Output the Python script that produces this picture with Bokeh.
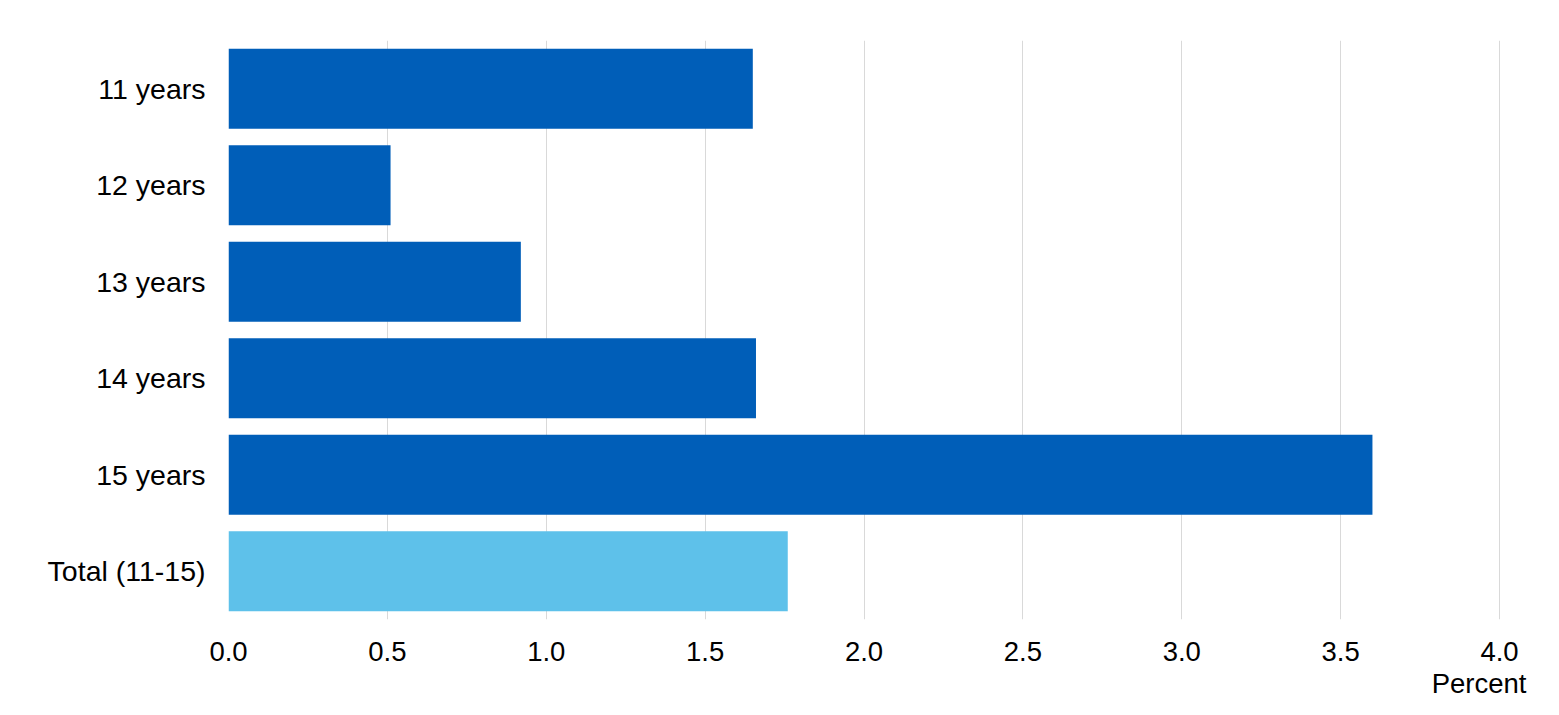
from bokeh.plotting import figure
from bokeh.models import Range1d, FixedTicker, NumeralTickFormatter, Title, ColumnDataSource
from bokeh.embed import file_html
from bokeh.resources import INLINE

categories = ["11 years", "12 years", "13 years", "14 years", "15 years", "Total (11-15)"]
percent = [1.65, 0.51, 0.92, 1.66, 3.60, 1.76]
bar_colors = ["#005EB8", "#005EB8", "#005EB8", "#005EB8", "#005EB8", "#5EC1EA"]
x_ticks = [0.0, 0.5, 1.0, 1.5, 2.0, 2.5, 3.0, 3.5, 4.0]
x_label = "Percent"

FONT = "Liberation Sans"

src = ColumnDataSource(dict(cat=categories, val=percent, color=bar_colors))

p = figure(width=1559, height=715, output_backend="svg", toolbar_location=None,
           y_range=list(reversed(categories)), x_range=Range1d(0, 4.003),
           min_border_left=228, min_border_right=59, min_border_top=40, min_border_bottom=96)
p.y_range.range_padding = 0

p.hbar(y="cat", left=0, right="val", height=0.83, color="color", line_color=None, source=src)

p.outline_line_color = None
p.background_fill_color = "white"
p.border_fill_color = "white"

p.ygrid.grid_line_color = None
p.xgrid.grid_line_color = "#d9d9d9"
p.xgrid.grid_line_width = 1
p.xaxis.ticker = FixedTicker(ticks=x_ticks)
p.xaxis.formatter = NumeralTickFormatter(format="0.0")

for ax in (p.xaxis, p.yaxis):
    ax.axis_line_color = None
    ax.major_tick_line_color = None
    ax.minor_tick_line_color = None
    ax.major_tick_out = 0
    ax.major_tick_in = 0
    ax.major_label_text_font = FONT
    ax.major_label_text_color = "#000000"

p.yaxis.major_label_text_font_size = "28.5px"
p.xaxis.major_label_text_font_size = "27.5px"
p.xaxis.major_label_standoff = 22
p.yaxis.major_label_standoff = 23

ttl = Title(text=x_label, align="right", offset=-26, standoff=4,
            text_font=FONT, text_font_size="27.5px", text_font_style="normal",
            text_color="#000000")
p.add_layout(ttl, "below")

open("out.html", "w").write(file_html(p, INLINE))
